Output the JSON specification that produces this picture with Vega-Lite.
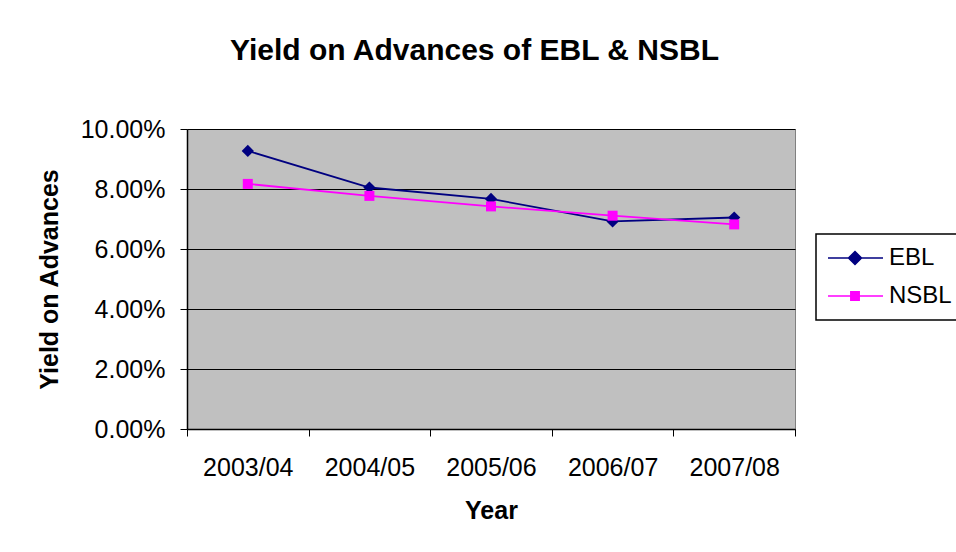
{
  "$schema": "https://vega.github.io/schema/vega-lite/v6.json",
  "width": 608,
  "height": 300,
  "autosize": "none",
  "padding": {"left": 187, "top": 129, "right": 161, "bottom": 123},
  "background": "white",
  "title": {
    "text": "Yield on Advances of EBL & NSBL",
    "font": "Liberation Sans",
    "fontSize": 30,
    "fontWeight": "bold",
    "color": "black",
    "anchor": "middle",
    "frame": "group",
    "dx": -16.5,
    "baseline": "alphabetic",
    "offset": 27
  },
  "config": {
    "font": "Liberation Sans",
    "view": {"fill": "#C0C0C0", "stroke": "#808080", "strokeWidth": 1}
  },
  "data": {
    "values": [
      {"year": "2003/04", "bank": "EBL", "yield": 0.0927},
      {"year": "2004/05", "bank": "EBL", "yield": 0.0805},
      {"year": "2005/06", "bank": "EBL", "yield": 0.0767},
      {"year": "2006/07", "bank": "EBL", "yield": 0.0692},
      {"year": "2007/08", "bank": "EBL", "yield": 0.0705},
      {"year": "2003/04", "bank": "NSBL", "yield": 0.0817},
      {"year": "2004/05", "bank": "NSBL", "yield": 0.0777},
      {"year": "2005/06", "bank": "NSBL", "yield": 0.0742},
      {"year": "2006/07", "bank": "NSBL", "yield": 0.0711},
      {"year": "2007/08", "bank": "NSBL", "yield": 0.0682}
    ]
  },
  "encoding": {
    "x": {
      "field": "year",
      "type": "ordinal",
      "scale": {"type": "band", "paddingInner": 0, "paddingOuter": 0},
      "axis": {
        "title": "Year",
        "titleFontSize": 25,
        "titleFontWeight": "bold",
        "titleColor": "black",
        "titlePadding": 18,
        "labelAngle": 0,
        "labelFontSize": 25,
        "labelColor": "black",
        "labelPadding": 19,
        "tickBand": "extent",
        "tickSize": 7,
        "tickColor": "black",
        "domainColor": "black",
        "domainWidth": 1.5,
        "grid": false
      }
    },
    "y": {
      "field": "yield",
      "type": "quantitative",
      "scale": {"domain": [0, 0.1], "nice": false},
      "axis": {
        "title": "Yield on Advances",
        "titleFontSize": 25,
        "titleFontWeight": "bold",
        "titleColor": "black",
        "titlePadding": 18,
        "values": [0, 0.02, 0.04, 0.06, 0.08, 0.1],
        "format": ".2%",
        "labelFontSize": 25,
        "labelColor": "black",
        "labelPadding": 15,
        "tickSize": 7,
        "tickColor": "black",
        "domainColor": "black",
        "domainWidth": 1.5,
        "grid": true,
        "gridColor": "black",
        "gridWidth": 1.2
      }
    },
    "color": {
      "field": "bank",
      "type": "nominal",
      "scale": {"domain": ["EBL", "NSBL"], "range": ["#000080", "#FF00FF"]},
      "legend": {
        "title": null,
        "orient": "none",
        "legendX": 629,
        "legendY": 105,
        "strokeColor": "black",
        "fillColor": "white",
        "padding": 12,
        "labelFontSize": 24,
        "labelColor": "black",
        "labelOffset": 37,
        "rowPadding": 14,
        "symbolSize": 400,
        "symbolStrokeWidth": 1.5,
        "encode": {
          "legend": {"update": {"strokeWidth": {"value": 1.5}}},
          "symbols": {
            "update": {
              "shape": {"signal": "datum.value === 'EBL' ? 'M-1.2,0H4.3M1.5,-0.65L2.15,0L1.5,0.65L0.85,0Z' : 'M-1.2,0H4.3M1.08,-0.42H1.92V0.42H1.08Z'"},
              "fill": {"signal": "datum.value === 'EBL' ? '#000080' : '#FF00FF'"},
              "stroke": {"signal": "datum.value === 'EBL' ? '#000080' : '#FF00FF'"},
              "opacity": {"value": 1},
              "fillOpacity": {"value": 1}
            }
          }
        }
      }
    }
  },
  "layer": [
    {"mark": {"type": "line", "strokeWidth": 1.8}},
    {
      "mark": {"type": "point", "filled": true, "opacity": 1},
      "encoding": {
        "shape": {"condition": {"test": "datum.bank === 'EBL'", "value": "diamond"}, "value": "square"},
        "size": {"condition": {"test": "datum.bank === 'EBL'", "value": 150}, "value": 100}
      }
    }
  ]
}
